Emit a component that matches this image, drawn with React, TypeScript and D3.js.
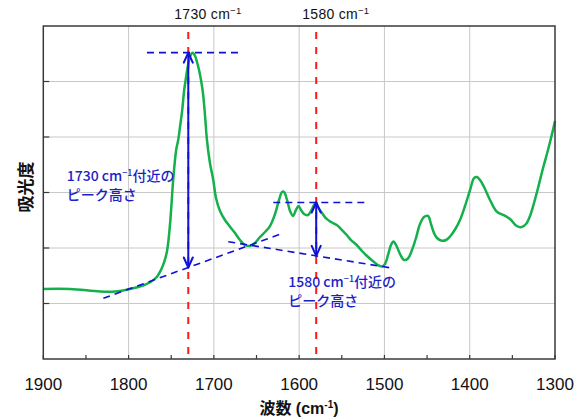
import React from "react";
import * as d3 from "d3";

// IR absorbance spectrum: wavenumber (cm-1) vs absorbance (arbitrary units)
const wavenumbers = [
  1900, 1868.7, 1833.5, 1816, 1798.4, 1783.1, 1774.3, 1766.7, 1762, 1758.2,
  1754.7, 1751.2, 1747.7, 1744.2, 1741.8, 1739.4, 1737.1, 1734.8, 1733.6, 1731.3,
  1729, 1726.6, 1724.9, 1722, 1719.8, 1717.4, 1715.1, 1712.8, 1710.4, 1708.1,
  1704.6, 1700.7, 1697.5, 1692.8, 1687, 1681.1, 1675.2, 1669.4, 1663.5, 1657.6,
  1651.8, 1645.9, 1640, 1634.2, 1628.3, 1623.6, 1620.1, 1617.7, 1614.2, 1610.7,
  1607.2, 1603.7, 1600.7, 1597.8, 1594.3, 1589.6, 1586.1, 1582.6, 1580.2, 1577.9,
  1574.4, 1567.7, 1562.6, 1555.9, 1550.9, 1544.2, 1539.2, 1532.5, 1526.3, 1520.4,
  1513, 1507.5, 1502.8, 1499.3, 1495.8, 1492.3, 1489.4, 1485.8, 1481.7, 1477,
  1472.4, 1467.7, 1463, 1458.3, 1453.6, 1448.9, 1445.4, 1441.9, 1438.4, 1432.8,
  1427.8, 1423.1, 1417.2, 1411.4, 1405.5, 1399.6, 1394.9, 1391.4, 1387.9, 1383.2,
  1376.2, 1368.3, 1360.9, 1356.2, 1351.6, 1344.9, 1339, 1334, 1329.3, 1324.6,
  1319.9, 1314, 1308.2, 1303.5, 1300,
];
const absorbance = [
  1.261, 1.261, 1.216, 1.216, 1.261, 1.324, 1.387, 1.483, 1.604, 1.748,
  1.964, 2.468, 3.225, 3.766, 3.946, 4.216, 4.486, 4.847, 4.973, 5.207,
  5.387, 5.495, 5.52, 5.459, 5.351, 5.207, 5.027, 4.793, 4.396, 3.946,
  3.532, 3.225, 2.901, 2.667, 2.505, 2.384, 2.27, 2.144, 2.054, 2.036,
  2.09, 2.198, 2.288, 2.396, 2.613, 2.865, 3.009, 3.009, 2.865, 2.667,
  2.577, 2.685, 2.757, 2.685, 2.613, 2.595, 2.667, 2.775, 2.82, 2.739,
  2.658, 2.523, 2.468, 2.414, 2.342, 2.234, 2.144, 2.054, 1.946, 1.856,
  1.757, 1.694, 1.667, 1.712, 1.874, 2.054, 2.117, 2.036, 1.892, 1.784,
  1.811, 1.964, 2.18, 2.432, 2.559, 2.577, 2.432, 2.27, 2.18, 2.132,
  2.144, 2.207, 2.333, 2.505, 2.757, 3.045, 3.261, 3.279, 3.225, 3.099,
  2.865, 2.654, 2.595, 2.559, 2.505, 2.396, 2.378, 2.432, 2.577, 2.811,
  3.081, 3.441, 3.766, 4.054, 4.288,
];

const xTickValues = [1900, 1800, 1700, 1600, 1500, 1400, 1300];
const yGridValues = [1, 2, 3, 4, 5];

// Marked peaks: position, peak height, baseline endpoints [wn, abs]
const peakNames = ["1730", "1580"];
const peakPositions = [1730, 1580];
const peakHeights = [5.52, 2.82];
const peakTopLineFrom = [1778.4, 1630.3];
const peakTopLineTo = [1669.3, 1520.8];
const baselineStart: [number, number][] = [[1829.6, 1.094], [1683.1, 2.114]];
const baselineEnd: [number, number][] = [[1619.3, 2.265], [1489.6, 1.634]];
const noteLine2 = "ピーク高さ";
const notePos: [number, number][] = [[66.7, 181], [288.3, 287]];

const W = 583;
const H = 418;
const left = 43.3;
const right = 555;
const top = 26;
const bottom = 359;

const x = d3.scaleLinear().domain([1900, 1300]).range([left, right]);
const y = d3.scaleLinear().domain([0, 6]).range([bottom, top]);

const blue = "#1010d8";
const textBlue = "#1e1ec8";
const red = "#ff1a1a";
const green = "#14b04c";

function baselineAt(i: number, wn: number) {
  const [w0, a0] = baselineStart[i];
  const [w1, a1] = baselineEnd[i];
  return a0 + ((wn - w0) / (w1 - w0)) * (a1 - a0);
}

function Arrow({ px, y1, y2 }: { px: number; y1: number; y2: number }) {
  const hw = 4.5;
  const hl = 10;
  return (
    <g stroke={blue} strokeWidth={2} fill="none" strokeLinecap="round" strokeLinejoin="round">
      <line x1={px} y1={y1} x2={px} y2={y2} />
      <polyline points={`${px - hw},${y1 + hl} ${px},${y1} ${px + hw},${y1 + hl}`} />
      <polyline points={`${px - hw},${y2 - hl} ${px},${y2} ${px + hw},${y2 - hl}`} />
    </g>
  );
}

export default function App() {
  const pts: [number, number][] = wavenumbers.map((w, i) => [x(w), y(absorbance[i])]);
  const path = d3.line().curve(d3.curveCatmullRom.alpha(0.5))(pts) || "";
  const bottomTicks = d3.range(1900, 1299, -50);

  return (
    <svg
      width={W}
      height={H}
      style={{ position: "absolute", left: 0, top: 0, background: "#fff" }}
      fontFamily="'Liberation Sans', Arial, sans-serif"
    >
      {/* grid */}
      <g stroke="#c8c8c8" strokeWidth={1}>
        {xTickValues.slice(1, -1).map((v) => (
          <line key={v} x1={x(v)} x2={x(v)} y1={top} y2={bottom} />
        ))}
        {yGridValues.map((v) => (
          <line key={v} x1={left} x2={right} y1={y(v)} y2={y(v)} />
        ))}
      </g>

      {/* red peak markers */}
      {peakPositions.map((p) => (
        <line
          key={p}
          x1={x(p)}
          x2={x(p)}
          y1={top + 6}
          y2={bottom}
          stroke={red}
          strokeWidth={2}
          strokeDasharray="7 8"
        />
      ))}

      {/* spectrum */}
      <path d={path} fill="none" stroke={green} strokeWidth={2.5} strokeLinejoin="round" />

      {/* baselines, peak top lines and arrows */}
      {peakPositions.map((p, i) => {
        const base = baselineAt(i, p);
        return (
          <g key={p}>
            <line
              x1={x(baselineStart[i][0])}
              y1={y(baselineStart[i][1])}
              x2={x(baselineEnd[i][0])}
              y2={y(baselineEnd[i][1])}
              stroke={blue}
              strokeWidth={1.6}
              strokeDasharray="7 5"
            />
            <line
              x1={x(peakTopLineFrom[i])}
              x2={x(peakTopLineTo[i])}
              y1={y(peakHeights[i])}
              y2={y(peakHeights[i])}
              stroke={blue}
              strokeWidth={1.6}
              strokeDasharray="7 5"
            />
            <Arrow px={x(p)} y1={y(peakHeights[i])} y2={y(base)} />
          </g>
        );
      })}

      {/* frame */}
      <rect
        x={left}
        y={top}
        width={right - left}
        height={bottom - top}
        fill="none"
        stroke="#3a3a3a"
        strokeWidth={1.5}
      />

      {/* ticks */}
      <g stroke="#3a3a3a" strokeWidth={1.2}>
        {bottomTicks.map((v) => (
          <line key={v} x1={x(v)} x2={x(v)} y1={bottom} y2={bottom - 4} />
        ))}
        {yGridValues.map((v) => (
          <line key={v} x1={left} x2={left + 6} y1={y(v)} y2={y(v)} />
        ))}
      </g>

      {/* x tick labels */}
      {xTickValues.map((v) => (
        <text key={v} x={x(v)} y={389.5} fontSize={17} textAnchor="middle" fill="#111">
          {v}
        </text>
      ))}

      {/* axis titles */}
      <text
        x={299}
        y={414}
        fontSize={16}
        fontWeight="bold"
        textAnchor="middle"
        fill="#111"
        fontFamily="'Liberation Sans', 'Noto Sans CJK JP', sans-serif"
      >
        <tspan>波数 (cm</tspan>
        <tspan fontSize={10} dy={-6}>-1</tspan>
        <tspan dy={6}>)</tspan>
      </text>
      <text
        transform="translate(24,187) rotate(-90)"
        fontSize={17}
        fontWeight="bold"
        textAnchor="middle"
        dominantBaseline="central"
        fill="#111"
        fontFamily="'Noto Sans CJK JP', sans-serif"
      >
        吸光度
      </text>

      {/* top labels */}
      {peakPositions.map((p, i) => (
        <text key={p} x={x(p) - 14} y={19} fontSize={14} fill="#111" letterSpacing={0.3}>
          <tspan>{peakNames[i]} cm</tspan>
          <tspan fontSize={9.5} dy={-5.5}>−1</tspan>
        </text>
      ))}

      {/* annotation notes */}
      {peakPositions.map((p, i) => (
        <text
          key={p}
          x={notePos[i][0]}
          y={notePos[i][1]}
          fontSize={14}
          fontWeight={500}
          fill={textBlue}
          fontFamily="'Noto Sans CJK JP', sans-serif"
        >
          <tspan>{peakNames[i]} cm</tspan>
          <tspan fontSize={9} dy={-5}>−1</tspan>
          <tspan dy={5}>付近の</tspan>
          <tspan x={notePos[i][0]} dy={18.5}>
            {noteLine2}
          </tspan>
        </text>
      ))}
    </svg>
  );
}
